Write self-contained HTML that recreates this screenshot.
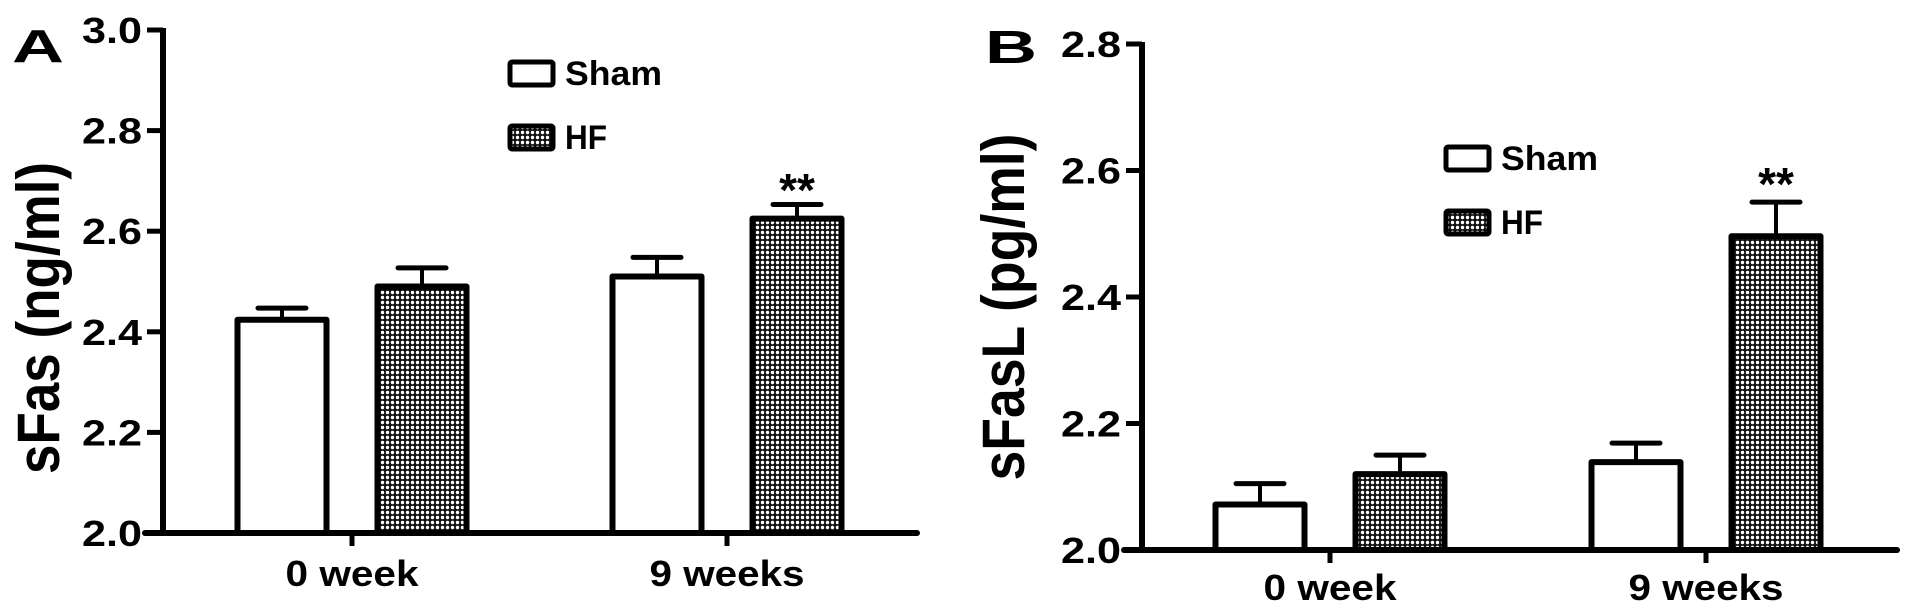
<!DOCTYPE html>
<html><head><meta charset="utf-8"><style>
html,body{margin:0;padding:0;background:#fff;}
svg{display:block;}
text{font-family:"Liberation Sans",Arial,sans-serif;font-weight:bold;fill:#000;}
</style></head><body>
<svg id="chart" width="1913" height="609" viewBox="0 0 1913 609" xmlns="http://www.w3.org/2000/svg">
<defs>
<pattern id="dots" width="5" height="5" patternUnits="userSpaceOnUse">
<rect width="5" height="5" fill="#111"/>
<circle cx="2.5" cy="2.5" r="1.7" fill="#fff"/>
</pattern>
</defs>
<g id="panelA"></g>
<g id="panelB"></g>
</svg>
<script>
const categories = ["0 week", "9 weeks"];
const seriesNames = ["Sham", "HF"];
// Panel A: sFas (ng/ml)
const shamA = [2.424, 2.51];
const hfA = [2.49, 2.625];
const shamErrA = [0.023, 0.038];
const hfErrA = [0.037, 0.028];
const ticksA = ["2.0", "2.2", "2.4", "2.6", "2.8", "3.0"];
// Panel B: sFasL (pg/ml)
const shamB = [2.072, 2.139];
const hfB = [2.12, 2.496];
const shamErrB = [0.033, 0.03];
const hfErrB = [0.03, 0.054];
const ticksB = ["2.0", "2.2", "2.4", "2.6", "2.8"];

const NS = "http://www.w3.org/2000/svg";
function mk(parent, tag, attrs, txt) {
  const e = document.createElementNS(NS, tag);
  for (const k in attrs) e.setAttribute(k, attrs[k]);
  if (txt !== undefined) e.textContent = txt;
  parent.appendChild(e);
  return e;
}

function drawPanel(g, cfg, sham, hf, shamErr, hfErr, ticks, pfx) {
  const vmin = parseFloat(ticks[0]), vmax = parseFloat(ticks[ticks.length - 1]);
  const y = v => cfg.y0 - (v - vmin) / (vmax - vmin) * (cfg.y0 - cfg.y1);
  const xc = i => cfg.c0 + i * (cfg.c1 - cfg.c0);
  const bw = 95, off = 70, capW = 48;

  const L = mk(g, "text", {x: cfg.lx, y: cfg.ly, "font-size": 46, textLength: 52, lengthAdjust: "spacingAndGlyphs"}, cfg.letter);
  
  

  const yt = mk(g, "text", {x: 0, y: 0, "font-size": 60, "text-anchor": "middle", textLength: cfg.tlen, lengthAdjust: "spacingAndGlyphs",
    transform: "translate(" + cfg.tx + "," + cfg.ty + ") rotate(-90)"}, cfg.title);
  
  

  for (let i = 0; i < categories.length; i++) {
    const specs = [[sham[i], shamErr[i], -off, "#fff", "sham"], [hf[i], hfErr[i], off, "url(#dots)", "hf"]];
    for (const s of specs) {
      const cx = xc(i) + s[2];
      const top = y(s[0]), capY = y(s[0] + s[1]);
      const el = mk(g, "line", {x1: cx, y1: top, x2: cx, y2: capY, stroke: "#000", "stroke-width": 4});
      
      
      const cap = mk(g, "line", {x1: cx - capW / 2, y1: capY, x2: cx + capW / 2, y2: capY, stroke: "#000", "stroke-width": 5, "stroke-linecap": "round"});
      
      
      const b = mk(g, "rect", {x: cx - bw / 2 + 3, y: top, width: bw - 6, height: cfg.y0 - top, fill: s[3], stroke: "#000", "stroke-width": 6, "stroke-linejoin": "round"});
      
      
    }
    const xl = mk(g, "text", {x: xc(i), y: cfg.xly[i], "font-size": 36, "text-anchor": "middle", textLength: i === 0 ? 133 : 155, lengthAdjust: "spacingAndGlyphs"}, categories[i]);
    
    
    const xt = mk(g, "line", {x1: xc(i), y1: cfg.y0, x2: xc(i), y2: cfg.y0 + 13, stroke: "#000", "stroke-width": 5});
    
    
  }

  const st = mk(g, "text", {x: xc(1) + off, y: cfg.starY, "font-size": 46, "text-anchor": "middle"}, "**");
  
  

  const ya = mk(g, "line", {x1: cfg.ax, y1: cfg.y1 - 2, x2: cfg.ax, y2: cfg.y0 + 2, stroke: "#000", "stroke-width": 6});
  
  
  const xa = mk(g, "line", {x1: cfg.ax - 18, y1: cfg.y0, x2: cfg.axEnd, y2: cfg.y0, stroke: "#000", "stroke-width": 6, "stroke-linecap": "round"});
  
  
  for (let k = 0; k < ticks.length; k++) {
    const ty = y(parseFloat(ticks[k]));
    const t = mk(g, "line", {x1: cfg.ax - 16, y1: ty, x2: cfg.ax, y2: ty, stroke: "#000", "stroke-width": 5});
    
    
    const tl = mk(g, "text", {x: cfg.ax - 21, y: ty + 13, "font-size": 36, "text-anchor": "end", textLength: 60, lengthAdjust: "spacingAndGlyphs"}, ticks[k]);
    
    
  }

  const lg = mk(g, "g", {});
  
  
  const fills = ["#fff", "url(#dots)"];
  for (let j = 0; j < seriesNames.length; j++) {
    const ly = cfg.legY[j];
    const r = mk(lg, "rect", {x: cfg.legX, y: ly, width: 43, height: 23, fill: fills[j], stroke: "#000", "stroke-width": 5, rx: 2});
    
    
    const t = mk(lg, "text", {x: cfg.legX + 55, y: ly + 23, "font-size": 34, textLength: seriesNames[j] === "Sham" ? 97 : 42, lengthAdjust: "spacingAndGlyphs"}, seriesNames[j]);
    
    
  }
}

drawPanel(document.getElementById("panelA"), {
  letter: "A", lx: 12, ly: 62, title: "sFas (ng/ml)", tx: 59, ty: 318, tlen: 312,
  ax: 163, axEnd: 917, y0: 533, y1: 30, c0: 352, c1: 727, xly: [586, 586], starY: 206,
  legX: 510, legY: [62, 126]
}, shamA, hfA, shamErrA, hfErrA, ticksA, "a");

drawPanel(document.getElementById("panelB"), {
  letter: "B", lx: 985, ly: 63, title: "sFasL (pg/ml)", tx: 1024, ty: 307, tlen: 347,
  ax: 1142, axEnd: 1897, y0: 550, y1: 44, c0: 1330, c1: 1706, xly: [600, 600], starY: 200,
  legX: 1446, legY: [147, 211]
}, shamB, hfB, shamErrB, hfErrB, ticksB, "b");
</script>
</body></html>
